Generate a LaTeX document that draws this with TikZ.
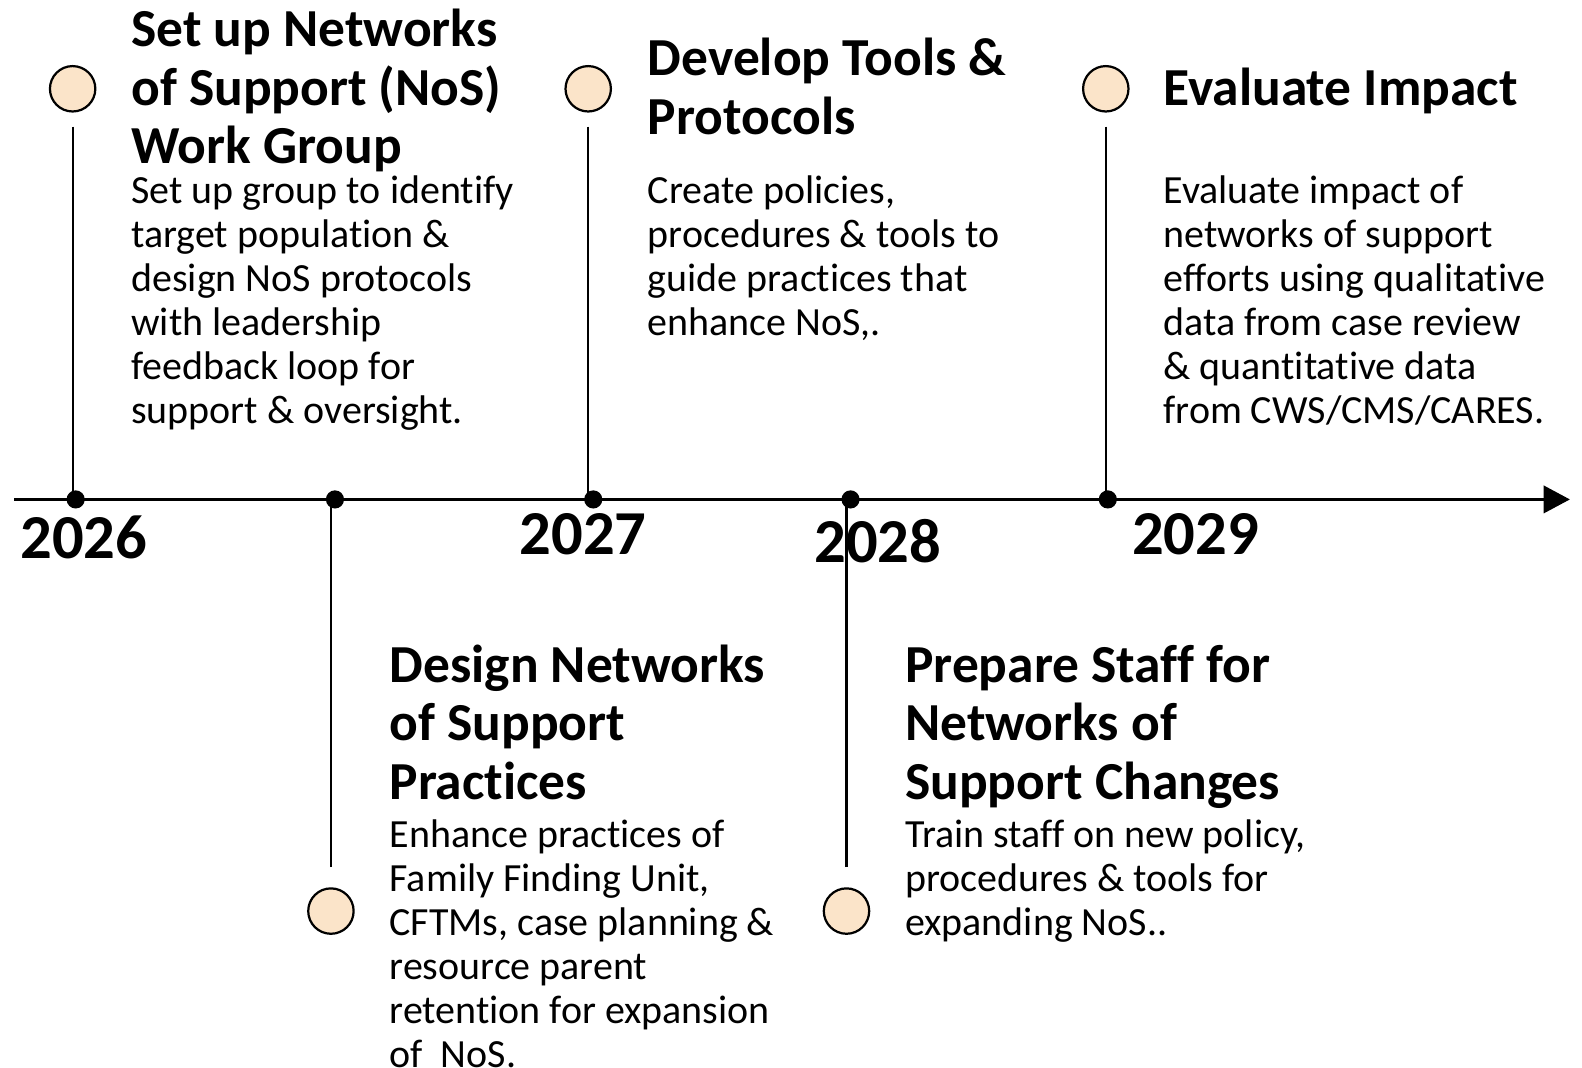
\documentclass[tikz,border=0pt]{standalone}
\usepackage{fontspec}
\setmainfont{Carlito}[Ligatures=NoCommon]
\usetikzlibrary{arrows.meta}
\definecolor{peach}{HTML}{FBE4C9}
% fixed-height strut so the first baseline sits 0.8em below a block's top edge
\newcommand\topline{\rule{0pt}{0.8em}}
\begin{document}
\begin{tikzpicture}[x=1pt,y=-1pt,
  milestone/.style={circle,draw=black,line width=2.2pt,fill=peach,minimum size=45pt,inner sep=0pt},
  tick/.style={circle,fill=black,inner sep=0pt,minimum size=18pt},
  stem/.style={line width=2pt},
  heading/.style={anchor=north west,inner sep=0pt,align=left,font=\fontsize{53}{58}\selectfont\bfseries},
  body/.style={anchor=north west,inner sep=0pt,align=left,font=\fontsize{39.6}{43.6}\selectfont},
  year/.style={inner sep=0pt,font=\fontsize{62}{70}\selectfont\bfseries}]
\useasboundingbox (0,0) rectangle (1568,1058);

% time axis
\coordinate (start) at (14,495);
\coordinate (end) at (1556,495);
\draw[line width=3pt,-{Triangle[length=26pt,width=27pt]}] (start) -- (end);

% ticks on the axis
\node[tick] (d1) at (75,495) {};
\node[tick] (d2) at (332,495) {};
\node[tick] (d3) at (588,495) {};
\node[tick] (d4) at (843,495) {};
\node[tick] (d5) at (1098,495) {};

% year labels
\node[year] (y1) at (83,533) {2026};
\node[year] (y2) at (578,529) {2027};
\node[year] (y3) at (870,536) {2028};
\node[year] (y4) at (1185,529) {2029};

% milestone markers
\node[milestone] (m1) at (72,88) {};
\node[milestone] (m2) at (328,903) {};
\node[milestone] (m3) at (583,88) {};
\node[milestone] (m4) at (839,903) {};
\node[milestone] (m5) at (1096,88) {};

% stems joining markers to the axis
\coordinate (s1) at ([yshift=-14pt]m1.south);
\coordinate (s2) at ([yshift=20pt]m2.north);
\coordinate (s3) at ([yshift=-14pt]m3.south);
\coordinate (s4) at ([yshift=20pt]m4.north);
\coordinate (s5) at ([yshift=-14pt]m5.south);
\draw[stem] (s1) -- (s1 |- d1);
\draw[stem] (s2) -- (s2 |- d2);
\draw[stem] (s3) -- (s3 |- d3);
\draw[stem] (s4) -- (s4 |- d4);
\draw[stem] (s5) -- (s5 |- d5);

% headings
\node[heading] (h1) at (130,3.6) {\topline Set up Networks\\of Support (NoS)\\Work Group};
\node[heading] (h2) at (642,32.6) {\topline Develop Tools \&\\Protocols};
\node[heading] (h3) at (1153,61.6) {\topline Evaluate Impact};
\node[heading] (h4) at (386,633.6) {\topline Design Networks\\of Support\\Practices};
\node[heading] (h5) at (897,633.6) {\topline Prepare Staff for\\Networks of\\Support Changes};

% descriptions
\node[body] (b1) at (130,170.3) {\topline Set up group to identify\\target population \&\\design NoS protocols\\with leadership\\feedback loop for\\support \& oversight.};
\node[body] (b2) at (642,170.3) {\topline Create policies,\\procedures \& tools to\\guide practices that\\enhance NoS,.};
\node[body] (b3) at (1153,170.3) {\topline Evaluate impact of\\networks of support\\efforts using qualitative\\data from case review\\\& quantitative data\\from CWS/CMS/CARES.};
\node[body] (b4) at (386,808.3) {\topline Enhance practices of\\Family Finding Unit,\\CFTMs, case planning \&\\resource parent\\retention for expansion\\of~ NoS.};
\node[body] (b5) at (897,808.3) {\topline Train staff on new policy,\\procedures \& tools for\\expanding NoS..};
\end{tikzpicture}
\end{document}
